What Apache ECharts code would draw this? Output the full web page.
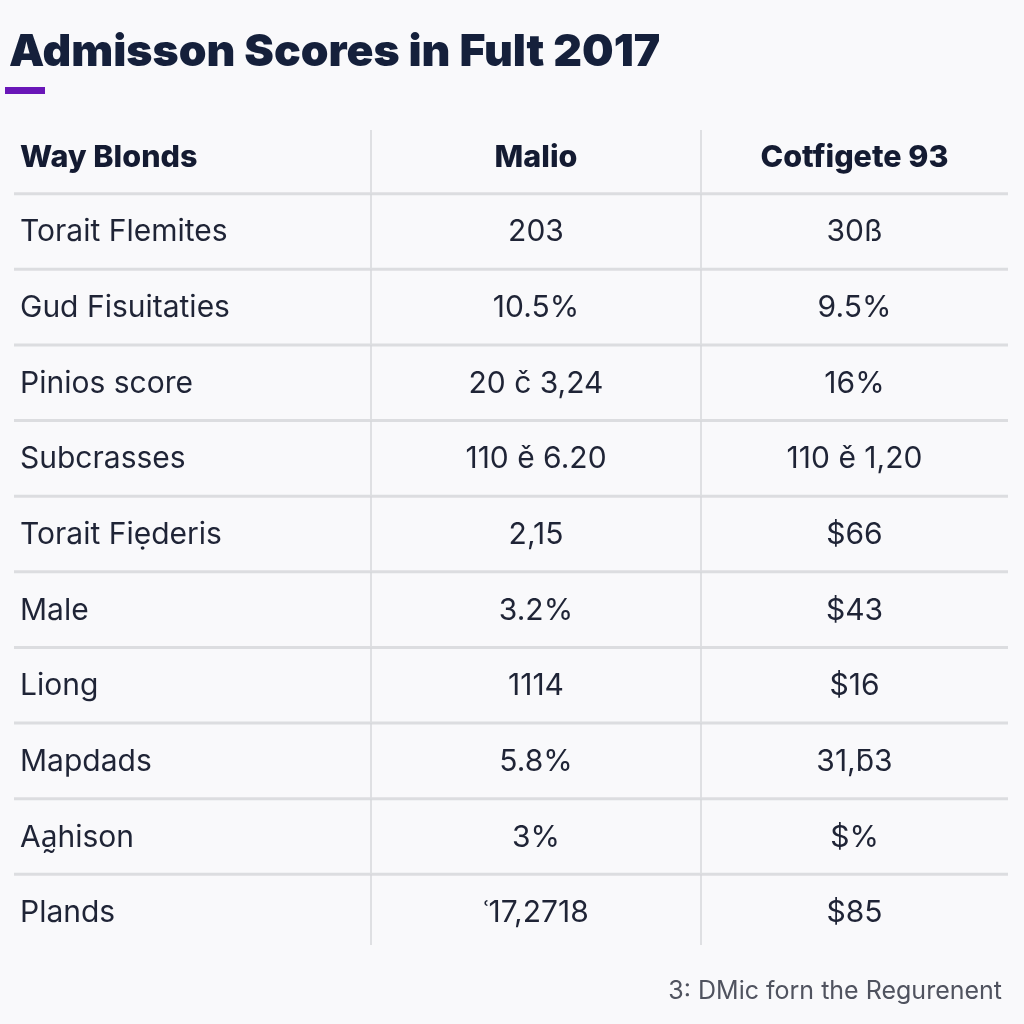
<!DOCTYPE html>
<html>
<head>
<meta charset="utf-8">
<title>Admisson Scores in Fult 2017</title>
<script src="https://cdn.jsdelivr.net/npm/echarts@6/dist/echarts.min.js"></script>
<style>
  html, body { margin: 0; padding: 0; background: #f9f9fb; }
  #main { width: 1024px; height: 1024px; }
</style>
</head>
<body>
<div id="main"></div>
<script>
// table contents
const headers = ['Way Blonds', 'Malio', 'Cotfigete 93'];
const rowLabels = ['Torait Flemites', 'Gud Fisuitaties', 'Pinios score', 'Subcrasses', 'Torait Fie\u0323deris', 'Male', 'Liong', 'Mapdads', 'Aa\u0330hison', 'Plands'];
const malioValues = ['20\u0417', '10.5%', '20 \u010d 3,24', '110 \u011b 6.20', '2,15', '3.2%', '1114', '5.8%', '3%', '\u02d317,2718'];
const collegeValues = ['30\u00df', '9.5%', '16%', '110 \u011b 1,20', '$66', '$43', '$16', '31,\u01833', '$%', '$85'];
const footnote = '3: DMic forn the Regurenent';

// column edges in x-axis units (grid is 994px wide)
const colEdges = [0, 357, 687, 994];

const rows = [headers].concat(rowLabels.map((label, i) => [label, malioValues[i], collegeValues[i]]));
const cells = [];
rows.forEach((row, r) => row.forEach((t, c) => cells.push([c, r, t])));

const lastRow = rows.length - 1;
const fontFamily = 'Inter, "Noto Sans", sans-serif';

let myChart = echarts.init(document.getElementById('main'));
myChart.setOption({
    backgroundColor: '#f9f9fb',
    animation: false,
    title: [{
        text: 'Admisson Scores in Fult 2017',
        left: 4,
        top: 25,
        textStyle: { fontSize: 44.5, fontWeight: 900, color: '#15203b', fontFamily: fontFamily }
    }, {
        text: footnote,
        right: 17,
        top: 974,
        textStyle: { fontSize: 25, fontWeight: 'normal', color: '#50535f', fontFamily: fontFamily }
    }],
    graphic: [{
        type: 'rect',
        left: 5,
        top: 87,
        shape: { width: 40, height: 7 },
        style: { fill: '#6a17b8' }
    }],
    grid: { left: 14, right: 16, top: 118, height: 832 },
    xAxis: { type: 'value', min: 0, max: 994, show: false },
    yAxis: { type: 'category', data: rows.map(r => r[0]), inverse: true, show: false },
    series: [{
        type: 'custom',
        data: cells,
        encode: { x: 0, y: 1 },
        renderItem: function (params, api) {
            const c = api.value(0);
            const r = api.value(1);
            const text = cells[params.dataIndex][2];
            const x0 = api.coord([colEdges[c], r])[0];
            const x1 = api.coord([colEdges[c + 1], r])[0];
            const yc = api.coord([0, r])[1];
            const h = api.size([0, 1])[1];
            const header = r === 0;
            const children = [{
                type: 'text',
                style: {
                    text: text,
                    x: c === 0 ? x0 + 6 : (x0 + x1) / 2,
                    y: yc + (header ? 2 : 1),
                    align: c === 0 ? 'left' : 'center',
                    verticalAlign: 'middle',
                    fontSize: header ? 30.5 : 30,
                    fontWeight: header ? 800 : 'normal',
                    fontFamily: fontFamily,
                    fill: header ? '#141b32' : '#1f2436'
                }
            }];
            if (c < 2) {
                children.push({
                    type: 'line',
                    shape: { x1: x1, y1: yc - h / 2 + (header ? 12 : 0), x2: x1, y2: yc + h / 2 - (r === lastRow ? 5 : 0) },
                    style: { stroke: '#d6d7db', lineWidth: 1.5 }
                });
            }
            if (r < lastRow) {
                children.push({
                    type: 'line',
                    shape: { x1: x0, y1: yc + h / 2, x2: x1, y2: yc + h / 2 },
                    style: { stroke: '#dcdde0', lineWidth: 3 }
                });
            }
            return { type: 'group', children: children };
        }
    }]
});
</script>
</body>
</html>
